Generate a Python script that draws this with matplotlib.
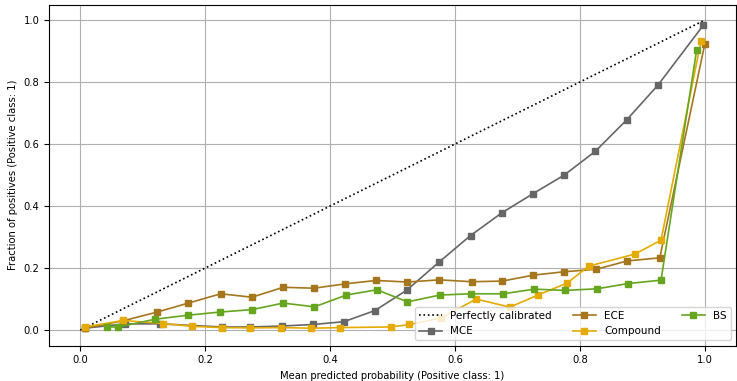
import matplotlib
matplotlib.use("Agg")
import matplotlib.pyplot as plt

# --- data ---
mce_x = [0.007, 0.072, 0.128, 0.227, 0.272, 0.323, 0.373, 0.422, 0.472, 0.523,
         0.575, 0.625, 0.675, 0.725, 0.775, 0.825, 0.875, 0.925, 0.998]
mce_y = [0.006, 0.020, 0.020, 0.010, 0.010, 0.013, 0.018, 0.027, 0.063, 0.129,
         0.220, 0.305, 0.378, 0.440, 0.500, 0.577, 0.678, 0.790, 0.984]

ece_x = [0.007, 0.069, 0.123, 0.173, 0.225, 0.275, 0.325, 0.374, 0.424, 0.474,
         0.524, 0.575, 0.627, 0.676, 0.725, 0.774, 0.826, 0.876, 0.928, 1.000]
ece_y = [0.006, 0.030, 0.058, 0.087, 0.117, 0.106, 0.138, 0.135, 0.149, 0.160,
         0.155, 0.162, 0.156, 0.158, 0.177, 0.188, 0.196, 0.223, 0.233, 0.922]

comp_x = [0.007, 0.069, 0.133, 0.179, 0.227, 0.272, 0.322, 0.370, 0.416, 0.498,
          0.527, 0.578, 0.634, 0.688, 0.733, 0.780, 0.814, 0.888, 0.930, 0.994]
comp_y = [0.010, 0.031, 0.021, 0.012, 0.008, 0.007, 0.008, 0.006, 0.008, 0.010,
          0.018, 0.039, 0.100, 0.074, 0.113, 0.152, 0.206, 0.245, 0.290, 0.932]

bs_x = [0.043, 0.061, 0.120, 0.173, 0.223, 0.275, 0.325, 0.375, 0.426, 0.475,
        0.524, 0.576, 0.626, 0.677, 0.727, 0.776, 0.827, 0.877, 0.930, 0.987]
bs_y = [0.010, 0.010, 0.035, 0.048, 0.058, 0.066, 0.087, 0.075, 0.113, 0.130,
        0.091, 0.113, 0.117, 0.117, 0.132, 0.128, 0.133, 0.150, 0.161, 0.903]

series = [
    ('MCE', mce_x, mce_y, '#666666'),
    ('ECE', ece_x, ece_y, '#a6761d'),
    ('Compound', comp_x, comp_y, '#e6ab02'),
    ('BS', bs_x, bs_y, '#66a61e'),
]

plt.rcParams['font.size'] = 7.2

fig, ax = plt.subplots(figsize=(7.37, 3.81), dpi=100)
fig.subplots_adjust(left=0.0665, right=0.9986, top=0.988, bottom=0.093)

ax.plot([0, 1], [0, 1], 'k:', linewidth=1.2, label='Perfectly calibrated')
for nome, xs, ys, cor in series:
    ax.plot(xs, ys, marker='s', markersize=5, linewidth=1.2, color=cor, label=nome)

ax.set_xlabel('Mean predicted probability (Positive class: 1)')
ax.set_ylabel('Fraction of positives (Positive class: 1)')
ax.grid(True, color='#b0b0b0', linewidth=0.8)
ax.legend(loc='lower right', ncol=3, fontsize=7.5, handlelength=2.2)

fig.savefig('out.png', dpi=100)
